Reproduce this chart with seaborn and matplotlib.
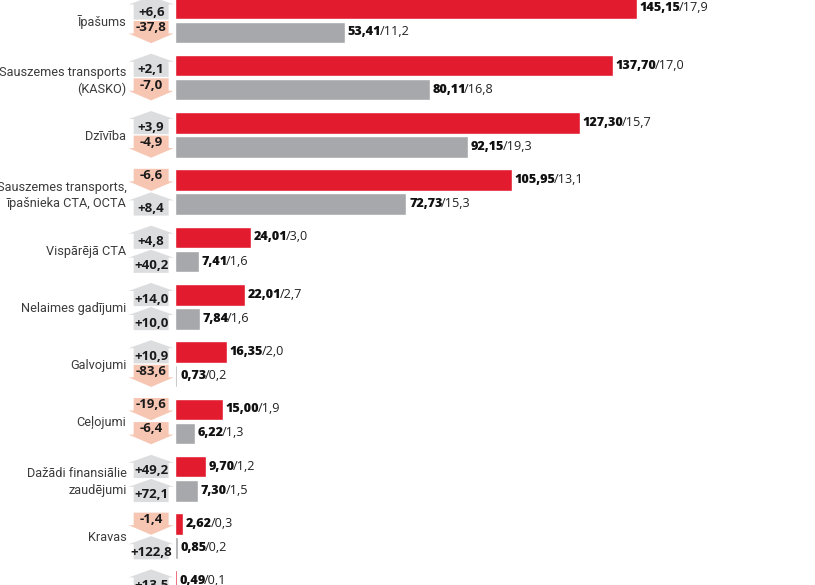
import numpy as np
import pandas as pd
import seaborn as sns
import matplotlib
matplotlib.use("Agg")
import matplotlib.pyplot as plt
from matplotlib.patches import Polygon

# ---------------- data ----------------
categories = ["Īpašums", "Sauszemes transports\n(KASKO)", "Dzīvība",
              "Sauszemes transports,\nīpašnieka CTA, OCTA", "Vispārējā CTA",
              "Nelaimes gadījumi", "Galvojumi", "Ceļojumi",
              "Dažādi finansiālie\nzaudējumi", "Kravas", " "]
series = ["Prēmijas", "Atlīdzības"]
values_a = [145.15, 137.70, 127.30, 105.95, 24.01, 22.01, 16.35, 15.00, 9.70, 2.62, 0.49]
shares_a = [17.9, 17.0, 15.7, 13.1, 3.0, 2.7, 2.0, 1.9, 1.2, 0.3, 0.1]
changes_a = [6.6, 2.1, 3.9, -6.6, 4.8, 14.0, 10.9, -19.6, 49.2, -1.4, 13.5]
values_b = [53.41, 80.11, 92.15, 72.73, 7.41, 7.84, 0.73, 6.22, 7.30, 0.85, np.nan]
shares_b = [11.2, 16.8, 19.3, 15.3, 1.6, 1.6, 0.2, 1.3, 1.5, 0.2, np.nan]
changes_b = [-37.8, -7.0, -4.9, 8.4, 40.2, 10.0, -83.6, -6.4, 72.1, 122.8, np.nan]

RED = "#e31b2f"
GRAY = "#a7a8ab"
UP_COL = "#dcdddf"
DOWN_COL = "#f6c6b3"

rows = []
for s, vals in zip(series, [values_a, values_b]):
    for c, v in zip(categories, vals):
        if not np.isnan(v):
            rows.append({"cat": c, "series": s, "value": v})
df = pd.DataFrame(rows)

sns.set_theme(style="white")
plt.rcParams["font.family"] = ["Open Sans", "DejaVu Sans"]

W, H = 815, 585
fig = plt.figure(figsize=(W / 100, H / 100), dpi=100)
x0 = 175
ax = fig.add_axes([x0 / W, 0, (W - x0) / W, 1])
pxx = 1 / 3.18          # data units per pixel (x)
sns.barplot(data=df, y="cat", x="value", hue="series", order=categories,
            hue_order=series, palette=[RED, GRAY], orient="h",
            width=0.84, gap=0.1, legend=False, ax=ax, saturation=1)

spacing = 57.3
pxy = 1 / spacing       # data units per pixel (y)
top_center = 20.3
for sp in ax.spines.values():
    sp.set_visible(False)
ax.set_xticks([])
ax.set_xlabel("")
ax.set_ylabel("")
ax.set_yticks(range(len(categories)))
ax.set_yticklabels(categories, fontsize=9.2, color="#3c3c3c",
                   family=["Roboto", "DejaVu Sans"], linespacing=1.35)
ax.tick_params(axis="y", length=0, pad=35)

def fmt(v, nd):
    return f"{v:.{nd}f}".replace(".", ",")

data_sets = [(values_a, shares_a, changes_a), (values_b, shares_b, changes_b)]
for j, cont in enumerate(ax.containers):
    vals, shs, chs = data_sets[j]
    for patch in cont:
        w = patch.get_width()
        if np.isnan(w):
            continue
        yc = patch.get_y() + patch.get_height() / 2
        i = int(round(yc))
        T = patch.get_y()
        B = T + patch.get_height()
        # value label
        t1 = ax.annotate(fmt(vals[i], 2), xy=(w, yc), xytext=(2, 0),
                         textcoords="offset points", ha="left", va="center",
                         fontsize=9.1, fontweight="heavy", color="#111111",
                         annotation_clip=False)
        ax.annotate("/" + fmt(shs[i], 1), xy=(1, 0), xycoords=t1,
                    xytext=(-1.2, 0), textcoords="offset points",
                    ha="left", va="bottom", fontsize=9.1, color="#222222")
        # change arrow
        ch = chs[i]
        if np.isnan(ch):
            continue
        bx0, bx1 = -13.0, -2.0
        hx0, hx1 = -14.6, -0.4
        xm = (hx0 + hx1) / 2
        if ch >= 0:
            apex = T - 1 * pxy
            hb = T + 7 * pxy
            bot = B + 0.5 * pxy
            pts = [(xm, apex), (hx1, hb), (bx1, hb), (bx1, bot),
                   (bx0, bot), (bx0, hb), (hx0, hb)]
            col = UP_COL
            ty = (hb + bot) / 2 + 0.5 * pxy
            label = "+" + fmt(ch, 1)
        else:
            top = T - 0.5 * pxy
            hb = T + 12 * pxy
            tip = B
            pts = [(bx0, top), (bx1, top), (bx1, hb), (hx1, hb), (xm, tip),
                   (hx0, hb), (bx0, hb)]
            col = DOWN_COL
            ty = (top + hb) / 2 + 0.5 * pxy
            label = "-" + fmt(-ch, 1)
        ax.add_patch(Polygon(pts, closed=True, facecolor=col, edgecolor="none",
                             clip_on=False, zorder=1))
        ax.text(xm, ty, label, ha="center", va="center", fontsize=9.5,
                fontweight="bold", color="#1a1a1a", zorder=2, clip_on=False)

# fix the view last (adding patches would otherwise move it)
ax.set_xlim(0, (W - x0) * pxx)
ax.set_ylim(len(categories) - 1 + (H - (top_center + 10 * spacing)) * pxy,
            -top_center * pxy)
fig.savefig("out.png", dpi=100)
